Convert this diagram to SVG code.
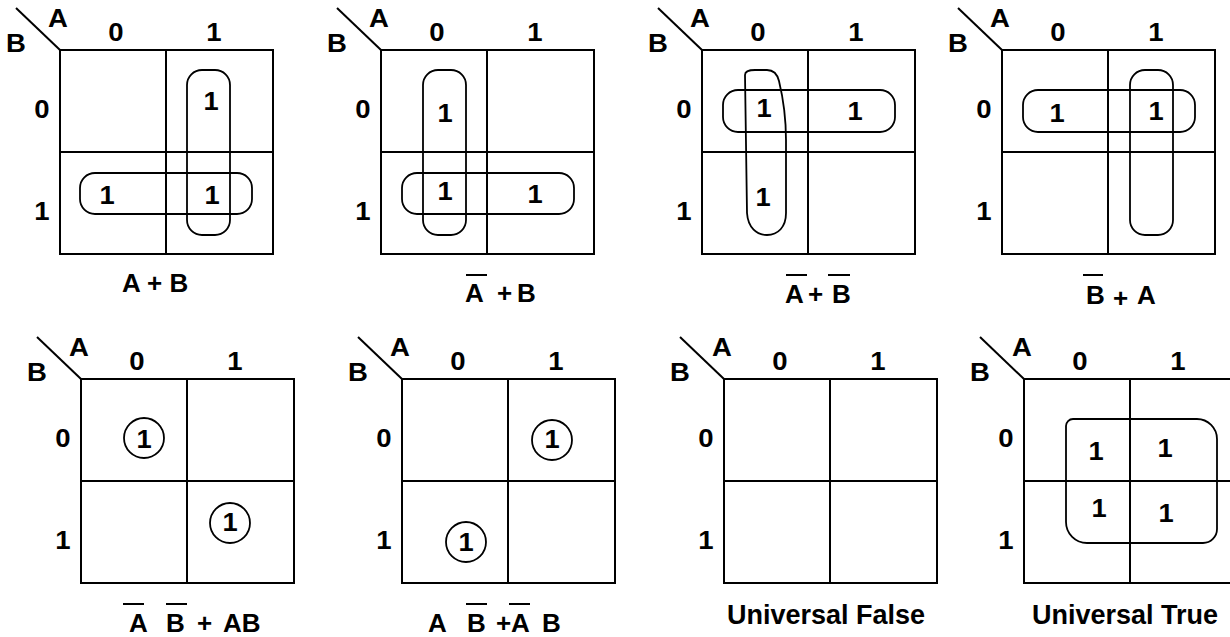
<svg xmlns="http://www.w3.org/2000/svg" width="1230" height="637" viewBox="0 0 1230 637">
<style>
text{font-family:"Liberation Sans",Arial,sans-serif;font-weight:bold;fill:#000}
.g{fill:none;stroke:#000;stroke-width:2}
.lp{fill:none;stroke:#000;stroke-width:1.8}
.ov{stroke:#000;stroke-width:2}
.hd{font-size:25px;text-anchor:middle}
.ab{font-size:25px;text-anchor:middle}
.c{font-size:26px;text-anchor:middle}
.cap{font-size:26px}
.cap2{font-size:27px}
</style>

<g id="map1" transform="translate(60,50)">
<rect class="g" x="0" y="0" width="213" height="204"/>
<line class="g" x1="106" y1="0" x2="106" y2="204"/>
<line class="g" x1="0" y1="102" x2="213" y2="102"/>
<line class="g" x1="-44" y1="-42" x2="0" y2="0"/>
<text class="ab" transform="translate(-2 -23) scale(1.1 1)">A</text>
<text class="ab" transform="translate(-44 2) scale(1.1 1)">B</text>
<text class="hd" transform="translate(56 -9) scale(1.1 1)">0</text>
<text class="hd" transform="translate(154 -9) scale(1.1 1)">1</text>
<text class="hd" transform="translate(-18 68) scale(1.1 1)">0</text>
<text class="hd" transform="translate(-18 170) scale(1.1 1)">1</text>
<rect class="lp" x="127" y="20" width="43" height="165" rx="15"/>
<rect class="lp" x="20" y="123" width="172" height="41" rx="15"/>
<text class="c" transform="translate(151 60) scale(1.05 1)">1</text>
<text class="c" transform="translate(47 154) scale(1.05 1)">1</text>
<text class="c" transform="translate(152 154) scale(1.05 1)">1</text>
</g>
<g id="cap1"><text class="cap" x="122" y="292">A + B</text></g>

<g id="map2" transform="translate(381,50)">
<rect class="g" x="0" y="0" width="213" height="204"/>
<line class="g" x1="106" y1="0" x2="106" y2="204"/>
<line class="g" x1="0" y1="102" x2="213" y2="102"/>
<line class="g" x1="-44" y1="-42" x2="0" y2="0"/>
<text class="ab" transform="translate(-2 -23) scale(1.1 1)">A</text>
<text class="ab" transform="translate(-44 2) scale(1.1 1)">B</text>
<text class="hd" transform="translate(56 -9) scale(1.1 1)">0</text>
<text class="hd" transform="translate(154 -9) scale(1.1 1)">1</text>
<text class="hd" transform="translate(-18 68) scale(1.1 1)">0</text>
<text class="hd" transform="translate(-18 170) scale(1.1 1)">1</text>
<rect class="lp" x="42" y="20" width="43" height="165" rx="15"/>
<rect class="lp" x="21" y="123" width="172" height="41" rx="15"/>
<text class="c" transform="translate(64 72) scale(1.05 1)">1</text>
<text class="c" transform="translate(64 150) scale(1.05 1)">1</text>
<text class="c" transform="translate(154 153) scale(1.05 1)">1</text>
</g>
<g id="cap2">
<text class="cap" x="465" y="302">A</text>
<text class="cap" x="497" y="302">+</text>
<text class="cap" x="517" y="302">B</text>
<line class="ov" x1="466" y1="275" x2="487" y2="275"/>
</g>

<g id="map3" transform="translate(702,50)">
<rect class="g" x="0" y="0" width="213" height="204"/>
<line class="g" x1="106" y1="0" x2="106" y2="204"/>
<line class="g" x1="0" y1="102" x2="213" y2="102"/>
<line class="g" x1="-44" y1="-42" x2="0" y2="0"/>
<text class="ab" transform="translate(-2 -23) scale(1.1 1)">A</text>
<text class="ab" transform="translate(-44 2) scale(1.1 1)">B</text>
<text class="hd" transform="translate(56 -9) scale(1.1 1)">0</text>
<text class="hd" transform="translate(154 -9) scale(1.1 1)">1</text>
<text class="hd" transform="translate(-18 68) scale(1.1 1)">0</text>
<text class="hd" transform="translate(-18 170) scale(1.1 1)">1</text>
<rect class="lp" x="21" y="40" width="172" height="42" rx="15"/>
<path class="lp" d="M43,25 C43,21 47,20 53,20 L65,20 C71,20 75,23 77,31 Q84,60 84,90 L84,163 C84,177 76,185 65,185 C55,185 46,178 45,163 Z"/>
<text class="c" transform="translate(62 67) scale(1.05 1)">1</text>
<text class="c" transform="translate(153 70) scale(1.05 1)">1</text>
<text class="c" transform="translate(61 156) scale(1.05 1)">1</text>
</g>
<g id="cap3">
<text class="cap" x="785" y="303">A</text>
<text class="cap" x="808" y="303">+</text>
<text class="cap" x="832" y="303">B</text>
<line class="ov" x1="786" y1="275" x2="807" y2="275"/>
<line class="ov" x1="828" y1="275" x2="850" y2="275"/>
</g>

<g id="map4" transform="translate(1002,50)">
<rect class="g" x="0" y="0" width="213" height="204"/>
<line class="g" x1="106" y1="0" x2="106" y2="204"/>
<line class="g" x1="0" y1="102" x2="213" y2="102"/>
<line class="g" x1="-44" y1="-42" x2="0" y2="0"/>
<text class="ab" transform="translate(-2 -23) scale(1.1 1)">A</text>
<text class="ab" transform="translate(-44 2) scale(1.1 1)">B</text>
<text class="hd" transform="translate(56 -9) scale(1.1 1)">0</text>
<text class="hd" transform="translate(154 -9) scale(1.1 1)">1</text>
<text class="hd" transform="translate(-18 68) scale(1.1 1)">0</text>
<text class="hd" transform="translate(-18 170) scale(1.1 1)">1</text>
<rect class="lp" x="21" y="40" width="172" height="42" rx="15"/>
<rect class="lp" x="128" y="20" width="43" height="165" rx="15"/>
<text class="c" transform="translate(55 72) scale(1.05 1)">1</text>
<text class="c" transform="translate(154 70) scale(1.05 1)">1</text>
</g>
<g id="cap4">
<text class="cap" x="1086" y="304">B</text>
<text class="cap" x="1113" y="307">+</text>
<text class="cap" x="1137" y="304">A</text>
<line class="ov" x1="1083" y1="275" x2="1103" y2="275"/>
</g>

<g id="map5" transform="translate(81,379)">
<rect class="g" x="0" y="0" width="213" height="204"/>
<line class="g" x1="106" y1="0" x2="106" y2="204"/>
<line class="g" x1="0" y1="102" x2="213" y2="102"/>
<line class="g" x1="-44" y1="-42" x2="0" y2="0"/>
<text class="ab" transform="translate(-2 -23) scale(1.1 1)">A</text>
<text class="ab" transform="translate(-44 2) scale(1.1 1)">B</text>
<text class="hd" transform="translate(56 -9) scale(1.1 1)">0</text>
<text class="hd" transform="translate(154 -9) scale(1.1 1)">1</text>
<text class="hd" transform="translate(-18 68) scale(1.1 1)">0</text>
<text class="hd" transform="translate(-18 170) scale(1.1 1)">1</text>
<circle class="lp" cx="63" cy="59" r="20"/>
<circle class="lp" cx="149" cy="144" r="20"/>
<text class="c" transform="translate(63 69) scale(1.05 1)">1</text>
<text class="c" transform="translate(149 152) scale(1.05 1)">1</text>
</g>
<g id="cap5">
<text class="cap" x="129" y="632">A</text>
<text class="cap" x="166" y="632">B</text>
<text class="cap" x="197" y="632">+</text>
<text class="cap" x="223" y="632">AB</text>
<line class="ov" x1="123" y1="604" x2="144" y2="604"/>
<line class="ov" x1="166" y1="604" x2="187" y2="604"/>
</g>

<g id="map6" transform="translate(402,379)">
<rect class="g" x="0" y="0" width="213" height="204"/>
<line class="g" x1="106" y1="0" x2="106" y2="204"/>
<line class="g" x1="0" y1="102" x2="213" y2="102"/>
<line class="g" x1="-44" y1="-42" x2="0" y2="0"/>
<text class="ab" transform="translate(-2 -23) scale(1.1 1)">A</text>
<text class="ab" transform="translate(-44 2) scale(1.1 1)">B</text>
<text class="hd" transform="translate(56 -9) scale(1.1 1)">0</text>
<text class="hd" transform="translate(154 -9) scale(1.1 1)">1</text>
<text class="hd" transform="translate(-18 68) scale(1.1 1)">0</text>
<text class="hd" transform="translate(-18 170) scale(1.1 1)">1</text>
<circle class="lp" cx="150" cy="61" r="20"/>
<circle class="lp" cx="64" cy="163" r="20"/>
<text class="c" transform="translate(150 69) scale(1.05 1)">1</text>
<text class="c" transform="translate(64 172) scale(1.05 1)">1</text>
</g>
<g id="cap6">
<text class="cap" x="428" y="632">A</text>
<text class="cap" x="467" y="632">B</text>
<text class="cap" x="496" y="632">+</text>
<text class="cap" x="511" y="632">A</text>
<text class="cap" x="542" y="632">B</text>
<line class="ov" x1="466" y1="604" x2="487" y2="604"/>
<line class="ov" x1="509" y1="604" x2="530" y2="604"/>
</g>

<g id="map7" transform="translate(724,379)">
<rect class="g" x="0" y="0" width="213" height="204"/>
<line class="g" x1="106" y1="0" x2="106" y2="204"/>
<line class="g" x1="0" y1="102" x2="213" y2="102"/>
<line class="g" x1="-44" y1="-42" x2="0" y2="0"/>
<text class="ab" transform="translate(-2 -23) scale(1.1 1)">A</text>
<text class="ab" transform="translate(-44 2) scale(1.1 1)">B</text>
<text class="hd" transform="translate(56 -9) scale(1.1 1)">0</text>
<text class="hd" transform="translate(154 -9) scale(1.1 1)">1</text>
<text class="hd" transform="translate(-18 68) scale(1.1 1)">0</text>
<text class="hd" transform="translate(-18 170) scale(1.1 1)">1</text>
</g>
<g id="cap7"><text class="cap2" x="727" y="624">Universal False</text></g>

<g id="map8" transform="translate(1024,379)">
<rect class="g" x="0" y="0" width="213" height="204"/>
<line class="g" x1="106" y1="0" x2="106" y2="204"/>
<line class="g" x1="0" y1="102" x2="213" y2="102"/>
<line class="g" x1="-44" y1="-42" x2="0" y2="0"/>
<text class="ab" transform="translate(-2 -23) scale(1.1 1)">A</text>
<text class="ab" transform="translate(-44 2) scale(1.1 1)">B</text>
<text class="hd" transform="translate(56 -9) scale(1.1 1)">0</text>
<text class="hd" transform="translate(154 -9) scale(1.1 1)">1</text>
<text class="hd" transform="translate(-18 68) scale(1.1 1)">0</text>
<text class="hd" transform="translate(-18 170) scale(1.1 1)">1</text>
<path class="lp" d="M42,47 A7,7 0 0 1 49,40 L173,40 A20,20 0 0 1 193,60 L193,150 A14,14 0 0 1 179,164 L63,164 A21,21 0 0 1 42,143 Z"/>
<text class="c" transform="translate(72 81) scale(1.05 1)">1</text>
<text class="c" transform="translate(141 78) scale(1.05 1)">1</text>
<text class="c" transform="translate(75 138) scale(1.05 1)">1</text>
<text class="c" transform="translate(142 143) scale(1.05 1)">1</text>
</g>
<g id="cap8"><text class="cap2" x="1032" y="624">Universal True</text></g>
</svg>
